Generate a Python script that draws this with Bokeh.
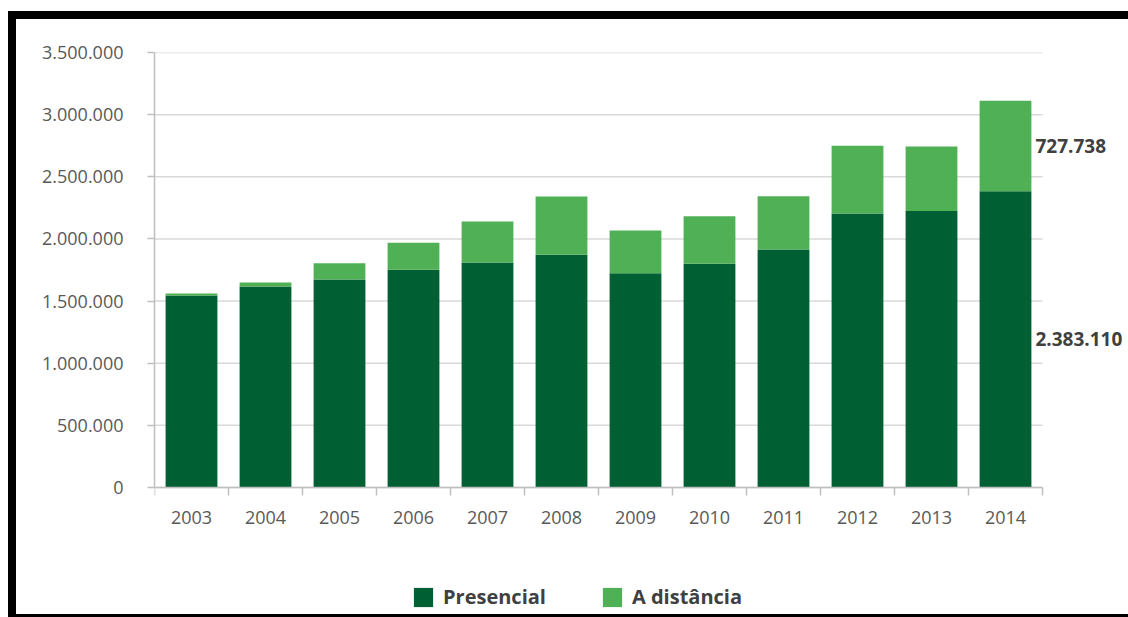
from bokeh.plotting import figure
from bokeh.models import (ColumnDataSource, Range1d, FixedTicker, Legend, LegendItem, Label)
from bokeh.embed import file_html
from bokeh.resources import INLINE

# ---- data ----
years = ["2003", "2004", "2005", "2006", "2007", "2008",
         "2009", "2010", "2011", "2012", "2013", "2014"]
presencial = [1545000, 1617000, 1674000, 1752000, 1810000, 1872000,
              1724000, 1800000, 1915000, 2204000, 2224000, 2383110]
a_distancia = [15000, 32000, 131000, 217000, 330000, 469000,
               344000, 383000, 429000, 545000, 520000, 727738]
series_names = ["Presencial", "A distância"]
y_ticks = [0, 500000, 1000000, 1500000, 2000000, 2500000, 3000000, 3500000]

DARK = "#005f33"
LIGHT = "#50b055"
FONT = "Open Sans"
GRID = "#d9d9d9"
AXIS = "#bfbfbf"
TICKTXT = "#595959"


def fmt(v):
    return f"{v:,}".replace(",", ".")


n = len(years)
idx = list(range(n))
source = ColumnDataSource(dict(x=idx, presencial=presencial, a_distancia=a_distancia))

# outer element size (CSS borders eat into it: 8px left, 8px top + 3px bottom)
W, H = 1120, 606
HIDDEN_R, HIDDEN_B = 8, 11           # canvas parts hidden behind the borders
LEFT, TOP = 138, 33                  # frame offsets in canvas
slot_px = 74.0                       # pixel width of one category slot
value_px = 435.0                     # pixels from 0 to top tick
frame_w = W - LEFT - HIDDEN_R
frame_h = H - TOP - HIDDEN_B
x_end = -0.5 + frame_w / slot_px
y_per_px = y_ticks[-1] / value_px
y_start = -(frame_h - value_px) * y_per_px

p = figure(width=W, height=H, output_backend="svg", toolbar_location=None,
           x_range=Range1d(-0.5, x_end), y_range=Range1d(y_start, y_ticks[-1]),
           min_border_left=LEFT, min_border_right=HIDDEN_R, min_border_top=TOP,
           min_border_bottom=HIDDEN_B)
p.outline_line_color = None
p.background_fill_color = "white"
p.border_fill_color = "white"
p.styles = {"margin-top": "11px", "margin-left": "8px", "margin-bottom": "-12px",
            "overflow": "hidden",
            "border-top": "8px solid black", "border-left": "8px solid black",
            "border-bottom": "3px solid black"}

# grid lines only across the category area
p.xgrid.grid_line_color = None
p.ygrid.grid_line_color = None
p.segment(x0=[-0.5] * len(y_ticks), x1=[n - 0.5] * len(y_ticks), y0=y_ticks, y1=y_ticks,
          line_color=GRID, line_width=1.5, level="underlay")

rs = p.vbar_stack(["presencial", "a_distancia"], x="x", width=0.7, source=source,
                  color=[DARK, LIGHT], line_color=None)

# category axis drawn inside the frame
bounds = [i - 0.5 for i in range(n + 1)]
p.segment(x0=[-0.5], x1=[n - 0.5], y0=[0], y1=[0], line_color=AXIS, line_width=1.5)
p.segment(x0=bounds, x1=bounds, y0=[0] * len(bounds), y1=[-8 * y_per_px] * len(bounds),
          line_color=AXIS, line_width=1.5)
p.text(x=idx, y=[0] * n, text=years, y_offset=30, text_align="center",
       text_baseline="middle", text_font={"value": FONT}, text_font_size="18px",
       text_color=TICKTXT)
p.xaxis.visible = False

ya = p.yaxis[0]
ya.bounds = (0, y_ticks[-1])
ya.ticker = FixedTicker(ticks=y_ticks, minor_ticks=[])
ya.major_label_overrides = {v: fmt(v) for v in y_ticks}
ya.major_tick_out = 7
ya.major_tick_in = 0
ya.major_tick_line_color = AXIS
ya.major_tick_line_width = 1.5
ya.axis_line_color = AXIS
ya.axis_line_width = 1.5
ya.major_label_text_font = FONT
ya.major_label_text_font_size = "18px"
ya.major_label_text_color = TICKTXT
ya.major_label_standoff = 24

# value labels for the last year
last = n - 1
for yv, val in [(presencial[last] + a_distancia[last] / 2, a_distancia[last]),
                (presencial[last] / 2, presencial[last])]:
    p.add_layout(Label(x=last + 0.35, y=yv, text=fmt(val), x_offset=4,
                       text_align="left", text_baseline="middle",
                       text_font=FONT, text_font_style="bold", text_font_size="19px",
                       text_color="#404040"))

legend = Legend(items=[LegendItem(label=series_names[0], renderers=[rs[0]]),
                       LegendItem(label=series_names[1], renderers=[rs[1]])],
                orientation="horizontal", location=(257, 4),
                glyph_width=24, glyph_height=24, label_height=24,
                label_standoff=8, spacing=54, padding=0, margin=0,
                border_line_color=None, background_fill_alpha=0,
                label_text_font=FONT, label_text_font_style="bold",
                label_text_font_size="20px", label_text_color="#404040")
p.add_layout(legend, "center")

open("out.html", "w").write(file_html(p, INLINE))
